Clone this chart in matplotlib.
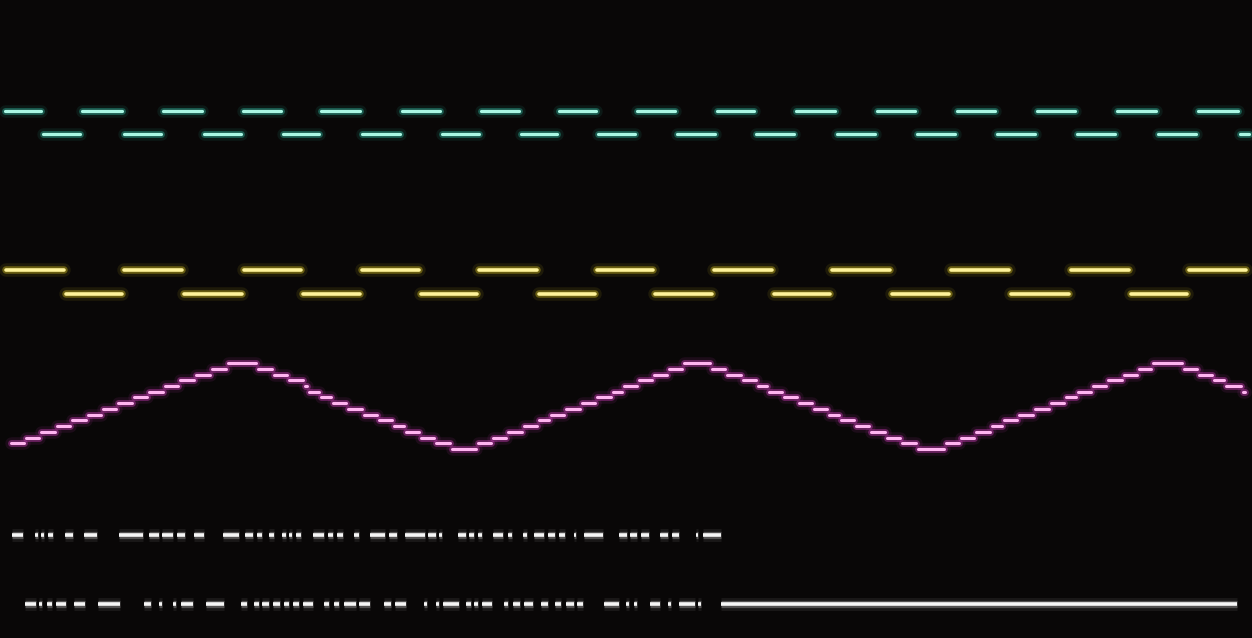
import matplotlib
matplotlib.use("Agg")
import matplotlib.pyplot as plt
import numpy as np

# ---------------- data (time axis in screen units) ----------------
# Channel 1 (cyan) square wave: segment edges and logic level of each segment
cyan_edges = [4, 42, 81, 123, 162, 203, 242, 282, 320, 361, 401, 441, 480, 520, 558,
              597, 636, 676, 716, 755, 795, 836, 876, 916, 956, 996, 1036, 1076, 1116,
              1157, 1197, 1239, 1250]
cyan_levels = [1, 0, 1, 0, 1, 0, 1, 0, 1, 0, 1, 0, 1, 0, 1, 0,
               1, 0, 1, 0, 1, 0, 1, 0, 1, 0, 1, 0, 1, 0, 1, 0]

# Channel 2 (yellow) square wave
yellow_edges = [5, 65, 123, 183, 243, 302, 361, 420, 478, 538, 596, 654, 713, 773,
                831, 891, 950, 1010, 1070, 1130, 1188, 1247]
yellow_levels = [1, 0, 1, 0, 1, 0, 1, 0, 1, 0, 1, 0, 1, 0, 1, 0, 1, 0, 1, 0, 1]

# Channel 3 (magenta) stepped triangle: step edges and DAC code of each step
magenta_edges = [10, 25, 40, 56, 71, 87, 102, 117, 133, 148, 164, 179, 195, 211, 227,
                 257, 273, 288, 304, 308, 320, 332, 347, 363, 378, 393, 405, 420, 435, 451,
                 477, 492, 507, 523, 538, 550, 565, 581, 596, 612, 623, 638, 653, 668, 683,
                 711, 726, 742, 757, 768, 783, 798, 813, 828, 840, 855, 870, 886, 901, 917,
                 945, 960, 975, 991, 1003, 1018, 1034, 1050, 1065, 1077, 1092, 1107, 1123, 1138, 1152,
                 1183, 1198, 1213, 1225, 1242, 1246]
magenta_codes = [1, 2, 3, 4, 5, 6, 7, 8, 9, 10, 11, 12, 13, 14, 15,
                 14, 13, 12, 11, 10, 9, 8, 7, 6, 5, 4, 3, 2, 1, 0,
                 1, 2, 3, 4, 5, 6, 7, 8, 9, 10, 11, 12, 13, 14, 15,
                 14, 13, 12, 11, 10, 9, 8, 7, 6, 5, 4, 3, 2, 1, 0,
                 1, 2, 3, 4, 5, 6, 7, 8, 9, 10, 11, 12, 13, 14, 15,
                 14, 13, 12, 11, 10]

# Channels 4 and 5 (white) digital bursts: start / end of each lit pulse
white1_starts = [11, 34, 40, 47, 64, 83, 118, 148, 161, 176, 193, 222, 244, 256, 268,
                 281, 288, 295, 312, 327, 336, 353, 369, 388, 404, 427, 438, 457, 468,
                 477, 492, 507, 522, 533, 547, 558, 573, 583, 618, 629, 640, 659, 671,
                 695, 702]
white1_ends = [24, 39, 45, 54, 74, 98, 144, 160, 174, 186, 205, 240, 254, 263, 275,
               287, 293, 302, 325, 334, 344, 360, 386, 398, 426, 437, 443, 467, 475,
               483, 504, 513, 528, 545, 556, 566, 577, 604, 628, 638, 650, 669, 680,
               699, 722]
white2_starts = [24, 38, 46, 55, 73, 97, 143, 158, 172, 180, 205, 240, 253, 261, 272,
                 283, 292, 302, 323, 333, 343, 358, 383, 394, 423, 435, 442, 465, 473,
                 481, 503, 512, 523, 540, 554, 565, 576, 603, 625, 633, 649, 667, 678,
                 697, 720]
white2_ends = [37, 43, 53, 67, 86, 121, 152, 163, 177, 194, 225, 248, 260, 270, 281,
               290, 300, 314, 330, 340, 357, 371, 392, 407, 428, 440, 460, 472, 479,
               493, 509, 521, 534, 549, 562, 575, 584, 620, 630, 638, 661, 672, 696,
               702, 1238]

# ---------------- style ----------------
BG = "#090707"
W, H = 1252, 638

fig = plt.figure(figsize=(W / 100, H / 100), dpi=100)
fig.patch.set_facecolor(BG)
ax = fig.add_axes([0, 0, 1, 1])
ax.set_facecolor(BG)
ax.set_xlim(0, W)
ax.set_ylim(H, 0)
ax.axis("off")


def glow_segments(ys, x0s, x1s, core, halo, core_lw, halo_lw, inset=1.0, cap="round"):
    x0s = np.asarray(x0s, float) + inset
    x1s = np.asarray(x1s, float) - inset
    ys = np.asarray(ys, float)
    for lw, col, a in ((halo_lw * 1.8, halo, 0.10), (halo_lw, halo, 0.40), (core_lw, core, 1.0)):
        lc = ax.hlines(ys, x0s, x1s, colors=col, linewidth=lw, alpha=a)
        lc.set_capstyle(cap)


def square_wave(edges, levels, y_high, y_low, core, halo, core_lw, halo_lw):
    e = np.asarray(edges, float)
    lv = np.asarray(levels)
    ys = np.where(lv == 1, y_high, y_low)
    glow_segments(ys, e[:-1], e[1:], core, halo, core_lw, halo_lw)


# cyan channel
square_wave(cyan_edges, cyan_levels, 111, 134, "#aaf7e4", "#2fb9a0", 2.3, 5.0)
# yellow channel
square_wave(yellow_edges, yellow_levels, 269.5, 293.5, "#fff39a", "#d9c21e", 2.6, 5.4)

# magenta stepped channel
me = np.asarray(magenta_edges, float)
mc = np.asarray(magenta_codes, float)
m_base, m_step = 449.0, 5.73
glow_segments(m_base - mc * m_step, me[:-1], me[1:], "#ffb4f0", "#cf3cbc", 2.2, 5.0)

# white digital channels
glow_segments(np.full(len(white1_starts), 535.0), white1_starts, white1_ends,
              "#f6f6f6", "#a8a8a8", 2.6, 5.2, inset=0.6, cap="butt")
glow_segments(np.full(len(white2_starts), 604.0), white2_starts, white2_ends,
              "#f6f6f6", "#a8a8a8", 2.6, 5.2, inset=0.6, cap="butt")

fig.savefig("out.png", dpi=100, facecolor=BG)
